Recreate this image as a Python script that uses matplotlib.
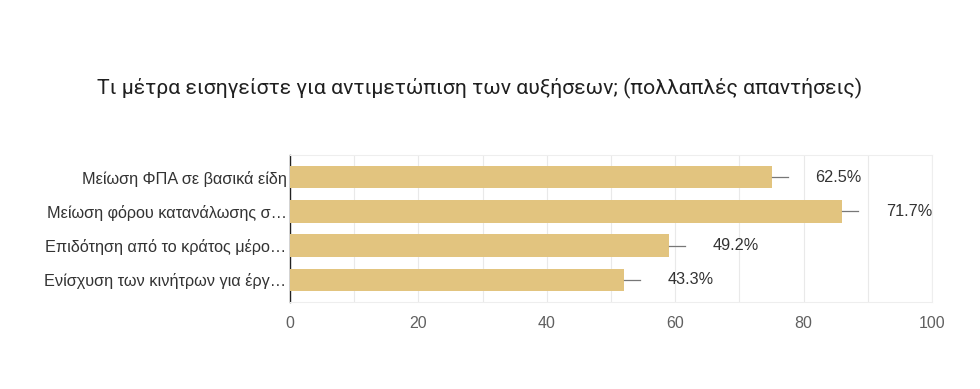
import matplotlib
matplotlib.use('Agg')
import matplotlib.pyplot as plt

# survey answers (n = 120 respondents)
labels = [
    "Μείωση ΦΠΑ σε βασικά είδη",
    "Μείωση φόρου κατανάλωσης σ…",
    "Επιδότηση από το κράτος μέρο…",
    "Ενίσχυση των κινήτρων για έργ…",
]
counts = [75, 86, 59, 52]
pct_labels = ["62.5%", "71.7%", "49.2%", "43.3%"]
ticks = [0, 20, 40, 60, 80, 100]

plt.rcParams['font.family'] = ['Liberation Sans', 'DejaVu Sans']

fig = plt.figure(figsize=(9.8, 3.89), dpi=100)
ax = fig.add_axes([290 / 980, 1 - 302 / 389, 642 / 980, 147 / 389])

y = list(range(len(labels)))
ax.barh(y, counts, height=0.65, color='#E2C47F', zorder=3)
ax.set_ylim(len(labels) - 0.35, -0.65)
ax.set_xlim(0, 100)

for i, (c, p) in enumerate(zip(counts, pct_labels)):
    ax.plot([c, c + 2.5], [i, i], color='#777777', lw=0.9, zorder=3)
    ax.text(c + 6.8, i, p, va='center', ha='left', fontsize=11.7, color='#333333')

ax.set_xticks(ticks)
ax.set_xticks(range(10, 100, 20), minor=True)
ax.set_yticks(y)
ax.set_yticklabels(labels, fontsize=11.7, color='#333333')
ax.tick_params(axis='both', which='both', length=0, pad=2.5)
ax.tick_params(axis='x', labelsize=11.5, labelcolor='#606060', pad=10)
ax.grid(axis='x', which='both', color='#e9e9e9', lw=0.8, zorder=0)

for s in ['top', 'right', 'bottom']:
    ax.spines[s].set_color('#eeeeee')
    ax.spines[s].set_linewidth(0.8)
ax.spines['left'].set_color('#222222')
ax.spines['left'].set_linewidth(1.0)

fig.text(97 / 980, 1 - 88 / 389, "Τι μέτρα εισηγείστε για αντιμετώπιση των αυξήσεων; (πολλαπλές απαντήσεις)",
         fontsize=15.3, color='#202020', va='center', ha='left', family=['Roboto', 'DejaVu Sans'])

fig.savefig('out.png', dpi=100)
